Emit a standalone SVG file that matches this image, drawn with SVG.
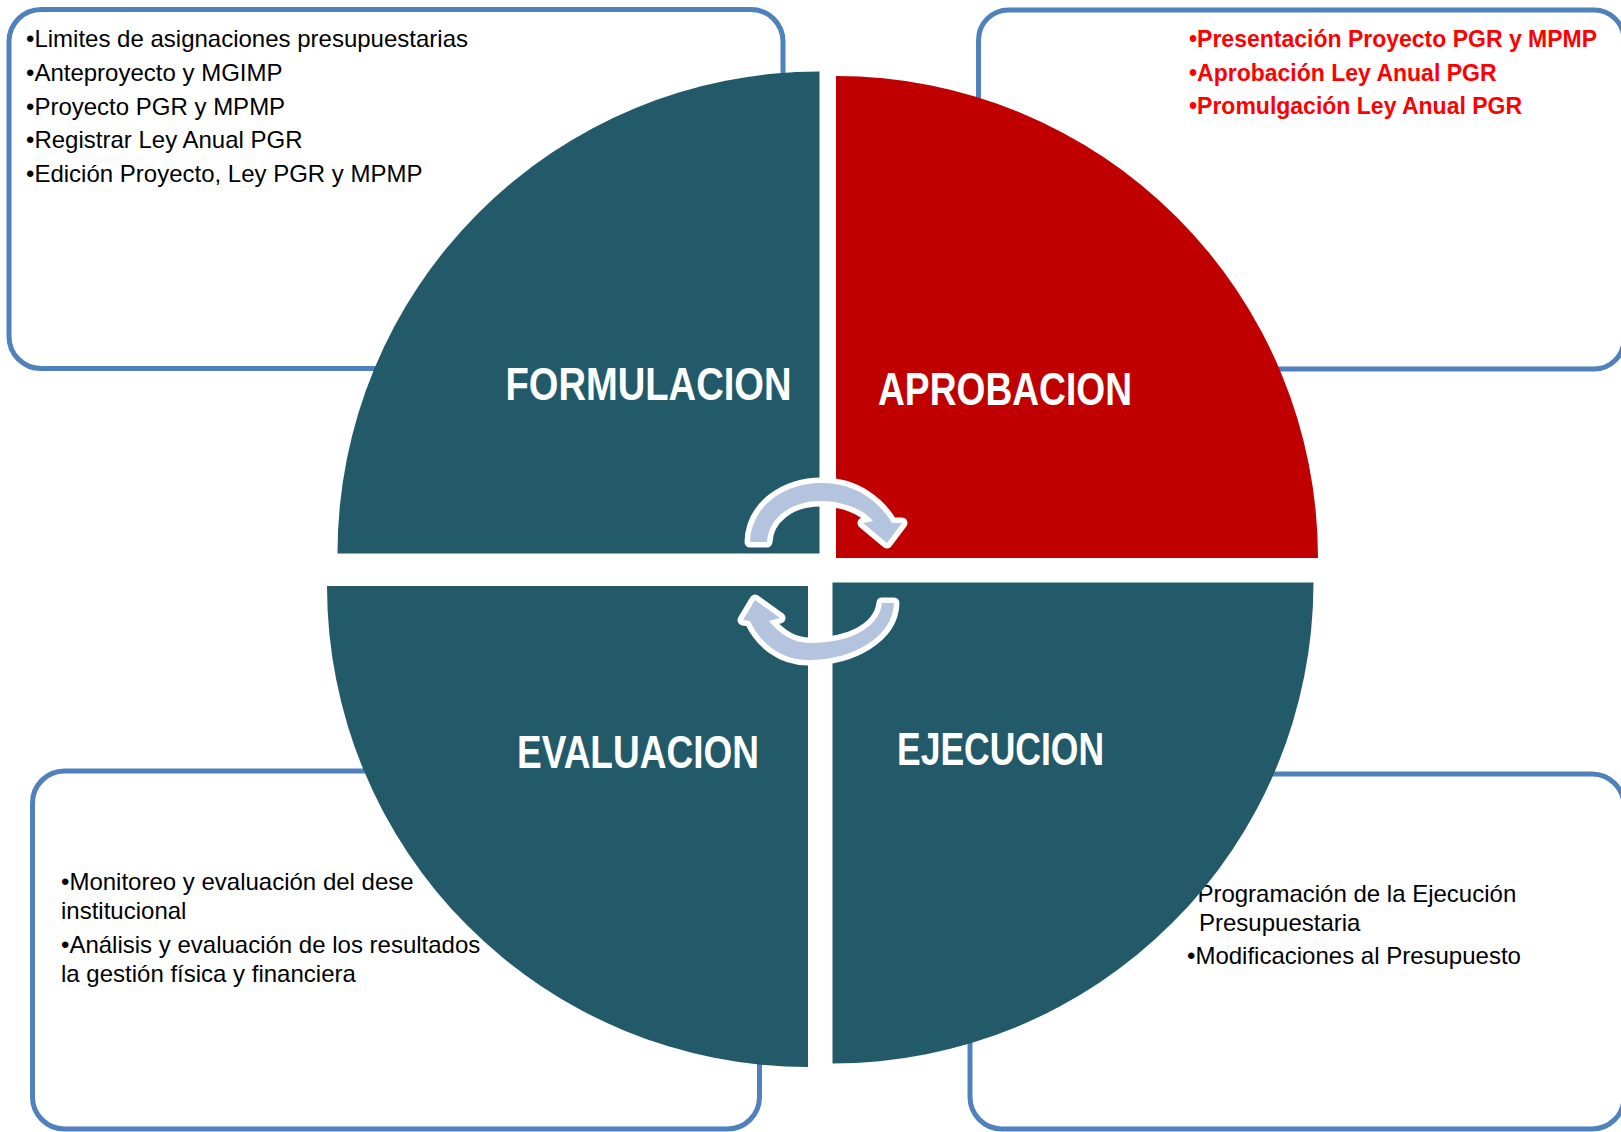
<svg xmlns="http://www.w3.org/2000/svg" width="1621" height="1132" viewBox="0 0 1621 1132">
<style>
.box{fill:none;stroke:#4F81BD;stroke-width:5}
.txt{font-family:"Liberation Sans",Arial,sans-serif;font-size:24px;fill:#000}
.red{font-family:"Liberation Sans",Arial,sans-serif;font-size:23px;font-weight:bold;fill:#FF0000}
.teal{fill:#235A69}
.redq{fill:#C00000}
.lbl{font-family:"Liberation Sans",Arial,sans-serif;font-size:46px;font-weight:bold;fill:#FFFFFF}
.arrow{fill:#B4C3DE;stroke:#FFFFFF;stroke-width:11;stroke-linejoin:round;paint-order:stroke}
</style>
<rect width="1621" height="1132" fill="#FFFFFF"/>

<g id="box-formulacion">
<rect class="box" x="9" y="9.5" width="774" height="359" rx="32" ry="32"/>
<text class="txt" x="26" y="47">•Limites de asignaciones presupuestarias</text>
<text class="txt" x="26" y="81">•Anteproyecto y MGIMP</text>
<text class="txt" x="26" y="115">•Proyecto PGR y MPMP</text>
<text class="txt" x="26" y="148">•Registrar Ley Anual PGR</text>
<text class="txt" x="26" y="182">•Edición Proyecto, Ley PGR y MPMP</text>
</g>

<g id="box-aprobacion">
<rect class="box" x="978.5" y="10" width="645.5" height="359" rx="30" ry="30"/>
<text class="red" x="1189" y="47">•Presentación Proyecto PGR y MPMP</text>
<text class="red" x="1189" y="81">•Aprobación Ley Anual PGR</text>
<text class="red" x="1189" y="114">•Promulgación Ley Anual PGR</text>
</g>

<g id="box-evaluacion">
<rect class="box" x="32.5" y="771" width="727" height="358" rx="32" ry="32"/>
<text class="txt" x="61" y="890">•Monitoreo y evaluación del dese</text>
<text class="txt" x="61" y="919">institucional</text>
<text class="txt" x="61" y="953">•Análisis y evaluación de los resultados</text>
<text class="txt" x="61" y="982">la gestión física y financiera</text>
</g>

<g id="box-ejecucion">
<rect class="box" x="970" y="774" width="654" height="355" rx="32" ry="32"/>
<text class="txt" x="1189" y="902">•Programación de la Ejecución</text>
<text class="txt" x="1199" y="931">Presupuestaria</text>
<text class="txt" x="1187" y="964">•Modificaciones al Presupuesto</text>
</g>

<g id="formulacion">
<path class="teal" d="M 819.5 553.5 L 337.5 553.5 A 482 482 0 0 1 819.5 71.5 Z"/>
<text class="lbl" x="505.5" y="400" textLength="286" lengthAdjust="spacingAndGlyphs">FORMULACION</text>
</g>

<g id="aprobacion">
<path class="redq" d="M 836 558 L 836 76 A 482 482 0 0 1 1318 558 Z"/>
<text class="lbl" x="878" y="405" textLength="254" lengthAdjust="spacingAndGlyphs">APROBACION</text>
</g>

<g id="evaluacion">
<path class="teal" d="M 808 586 L 808 1067 A 481 481 0 0 1 327 586 Z"/>
<text class="lbl" x="517" y="768" textLength="242" lengthAdjust="spacingAndGlyphs">EVALUACION</text>
</g>

<g id="ejecucion">
<path class="teal" d="M 832.5 582.5 L 1313.5 582.5 A 481 481 0 0 1 832.5 1063.5 Z"/>
<text class="lbl" x="897" y="765" textLength="207" lengthAdjust="spacingAndGlyphs">EJECUCION</text>
</g>

<g id="connectors">
<path class="arrow" d="M 750 542 C 751 507, 783 483, 822 483 C 857 483, 880 503, 892 523 L 902 523 L 887 543 L 863 523 L 873 521 C 863 509, 843 501, 820 501 C 790 501, 768 519, 767 542 Z"/>
<path class="arrow" d="M 894 603 C 893 637, 853 660, 808 660 C 781 660, 760 643, 750 621 L 743 620 L 755 600 L 780 618 L 769 621 C 780 634, 793 643, 810 643 C 848 643, 879 629, 882 603 Z"/>
</g>
</svg>
